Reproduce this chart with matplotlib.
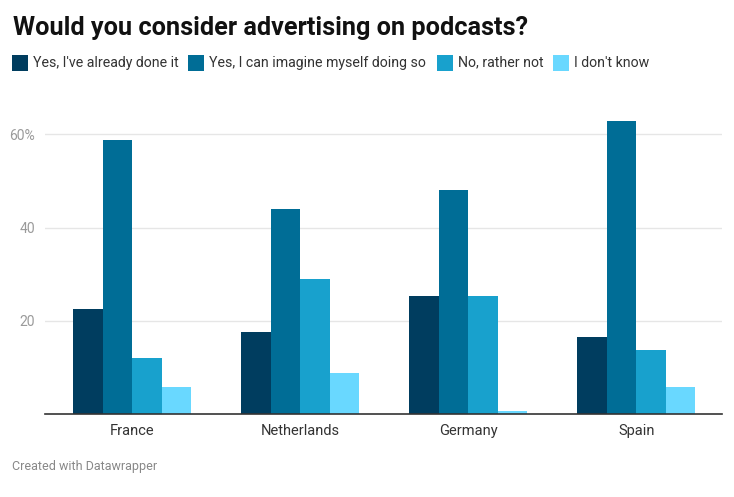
import numpy as np
import matplotlib
matplotlib.use('Agg')
import matplotlib.pyplot as plt
from matplotlib.patches import Rectangle

plt.rcParams['font.family'] = ['Roboto', 'DejaVu Sans']

#=== Data ============================================================================================

countries = ["France", "Netherlands", "Germany", "Spain"]
series_names = ["Yes, I've already done it", "Yes, I can imagine myself doing so",
                "No, rather not", "I don't know"]
already_done = [22.5, 17.5, 25.3, 16.6]
can_imagine = [58.9, 44.1, 48.0, 62.9]
rather_not = [12.0, 28.9, 25.3, 13.8]
dont_know = [5.9, 8.7, 0.7, 5.9]
yticks = [20, 40, 60]
ytick_labels = ["20", "40", "60%"]

colors = ['#003d5f', '#006d96', '#18a1cd', '#69d8ff']

#=== Plot ============================================================================================

W, H = 734, 497
fig = plt.figure(figsize=(W / 100, H / 100), dpi=100)

# axes box in pixels
left, right, top, bottom = 45, 722, 100, 414
ax = fig.add_axes([left / W, 1 - bottom / H, (right - left) / W, (bottom - top) / H])

values = [already_done, can_imagine, rather_not, dont_know]
x = np.arange(len(countries))
bw = 0.176
for i, vals in enumerate(values):
    ax.bar(x + (i - 1.5) * bw, vals, width=bw, color=colors[i], linewidth=0, zorder=3)

ax.set_xlim(-0.52, 3.51)
ax.set_ylim(0, 67.4)
ax.set_xticks(x)
ax.set_xticklabels(countries, fontsize=10.5, color='#333333')
ax.set_yticks(yticks)
ax.set_yticklabels(ytick_labels, fontsize=10, color='#9a9a9a')
ax.tick_params(axis='both', length=0)
ax.tick_params(axis='x', pad=7)
ax.tick_params(axis='y', pad=7)
ax.grid(axis='y', color='#e6e6e6', linewidth=1, zorder=0)

for s in ['top', 'right', 'left']:
    ax.spines[s].set_visible(False)
ax.spines['bottom'].set_color('#333333')
ax.spines['bottom'].set_linewidth(1.2)
ax.spines['bottom'].set_zorder(4)

# title
fig.text(12.5 / W, 1 - 35 / H, "Would you consider advertising on podcasts?",
         fontsize=18.2, fontweight='bold', color='#111111', ha='left', va='baseline')

# legend
legend_x = [12, 188.3, 436.7, 553.3]
for i, name in enumerate(series_names):
    lx = legend_x[i]
    fig.patches.append(Rectangle((lx / W, 1 - 71 / H), 16 / W, 16 / H,
                                 transform=fig.transFigure, facecolor=colors[i],
                                 edgecolor='none'))
    fig.text((lx + 21) / W, 1 - 66.7 / H, name, fontsize=10.15, color='#333333',
             ha='left', va='baseline')

# footer
fig.text(12 / W, 1 - 470 / H, "Created with Datawrapper", fontsize=9,
         color='#888888', ha='left', va='baseline')

fig.savefig('out.png', dpi=100)
